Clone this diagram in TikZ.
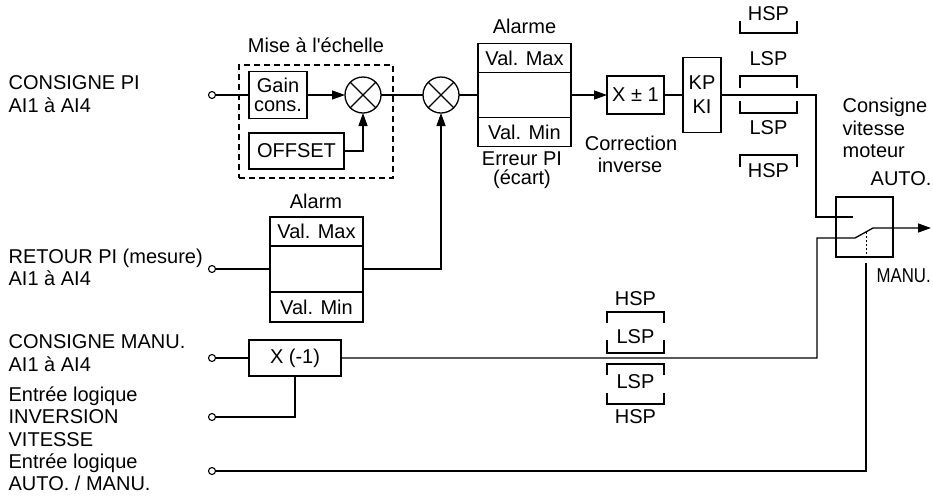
\documentclass[tikz,border=0pt]{standalone}
\usepackage{fontspec}
\usepackage{graphicx}
\setmainfont{Liberation Sans}
\usetikzlibrary{arrows.meta}
\begin{document}
\begin{tikzpicture}[x=1pt,y=-1pt,
  line width=1.3pt,
  every node/.style={font=\fontsize{20}{23}\selectfont},
  box/.style={draw, inner sep=0pt, outer sep=0pt, align=center},
  inp/.style={draw, circle, fill=white, inner sep=0pt, minimum size=7pt, line width=1.1pt},
  mult/.style={draw, circle, minimum size=36pt, inner sep=0pt, outer sep=0pt},
  lbl/.style={anchor=base west, inner sep=0pt},
  ctr/.style={anchor=base, inner sep=0pt},
  arr/.style={-{Triangle[length=13pt,width=9pt]}},
  brk/.style={line width=1.2pt},
]
\useasboundingbox (0,0) rectangle (933,496);

% scaling block
\node[draw, dash pattern=on 6pt off 4pt, minimum width=154pt, minimum height=113pt, inner sep=0pt] (scal) at (316,121.5) {};
\node[box, minimum width=58pt, minimum height=47pt, font=\fontsize{20}{19.5}\selectfont] (gain) at (278,95) {Gain\\cons.};
\node[box, minimum width=95pt, minimum height=36pt] (offset) at (296.5,151) {OFFSET};
\node[mult] (m1) at (363,95) {};
\node[mult] (m2) at (441,95) {};
\draw (m1.north east) -- (m1.south west) (m1.north west) -- (m1.south east);
\draw (m2.north east) -- (m2.south west) (m2.north west) -- (m2.south east);

% alarm block (error)
\node[box, minimum width=93pt, minimum height=45pt] (amid) at (524.5,95) {};
\node[box, minimum width=93pt, minimum height=29pt, anchor=south] (atop) at (amid.north) {Val. Max};
\node[box, minimum width=93pt, minimum height=29pt, anchor=north] (abot) at (amid.south) {Val. Min};

\node[box, minimum width=57pt, minimum height=38pt] (xpm) at (635.5,95) {X ± 1};
\node[box, minimum width=38pt, minimum height=75pt, font=\fontsize{20}{24}\selectfont] (kp) at (702,95) {KP\\KI};

% switch
\node[box, minimum width=57pt, minimum height=60pt] (sw) at (864.5,227) {};

% feedback alarm block
\node[box, minimum width=93pt, minimum height=46pt] (rmid) at (316.5,269) {};
\node[box, minimum width=93pt, minimum height=29pt, anchor=south] (rtop) at (rmid.north) {Val. Max};
\node[box, minimum width=93pt, minimum height=30pt, anchor=north] (rbot) at (rmid.south) {Val. Min};

\node[box, minimum width=92pt, minimum height=36pt] (xm1) at (295,358) {X (-1)};

% inputs
\node[inp] (i1) at (212,95) {};
\node[inp] (i2) at (212,269) {};
\node[inp] (i3) at (212,358) {};
\node[inp] (i4) at (212,417) {};
\node[inp] (i5) at (212,471) {};

% helper coordinates
\coordinate (ka) at (816,95);
\coordinate (s1) at (853,217);
\coordinate (b1) at (817,238);
\coordinate (s2) at (855,238);
\coordinate (s3) at (873,228);
\coordinate (out) at (931,228);
\coordinate (sd) at (866,231.9);
\coordinate (mt) at (866,263);

% connectors
\draw (i1) -- (gain);
\draw[arr] (gain) -- (m1);
\draw[arr] (offset.east) -| (m1.south);
\draw (m1) -- (m2);
\draw (m2) -- (amid);
\draw[arr] (amid) -- (xpm);
\draw (xpm) -- (kp);
\draw (kp.east) -- (ka) |- (s1);
\draw (i2) -- (rmid);
\draw[arr] (rmid.east) -| (m2.south);
\draw (i3) -- (xm1);
\draw[arr] (xm1.east) -| (b1) -- (s2) -- (s3) -- (out);
\draw[dash pattern=on 2pt off 2pt, line width=0.9pt] (sd) -- (sd |- sw.south);
\draw (i4) -| (xm1.south);
\draw (i5) -| (mt);

% limit brackets (top)
\draw[brk] (740,21) -- (740,33) -- (797,33) -- (797,21);
\draw[brk] (740,88) -- (740,76) -- (797,76) -- (797,88);
\draw[brk] (740,101) -- (740,113) -- (797,113) -- (797,101);
\draw[brk] (740,167) -- (740,155) -- (797,155) -- (797,167);
% limit brackets (bottom)
\draw[brk] (607,323) -- (607,312) -- (664,312) -- (664,323);
\draw[brk] (607,340) -- (607,353) -- (664,353) -- (664,340);
\draw[brk] (607,375) -- (607,364) -- (664,364) -- (664,375);
\draw[brk] (607,393) -- (607,404) -- (664,404) -- (664,393);

\node[ctr] (th1) at (768.5,20) {HSP};
\node[ctr] (tl1) at (768.5,65) {LSP};
\node[ctr] (tl2) at (768.5,134) {LSP};
\node[ctr] (th2) at (768.5,177) {HSP};
\node[ctr] (bh1) at (635.5,305) {HSP};
\node[ctr] (bl1) at (635.5,343) {LSP};
\node[ctr] (bl2) at (635.5,388) {LSP};
\node[ctr] (bh2) at (635.5,423) {HSP};

% labels
\node[ctr] (tmise) at (316,52) {Mise à l\textquotesingle échelle};
\node[ctr] (talarme) at (524.5,33) {Alarme};
\node[ctr] (terr1) at (522,165) {Erreur PI};
\node[ctr] (terr2) at (522,184) {(écart)};
\node[ctr] (tcor1) at (631,150) {Correction};
\node[ctr] (tcor2) at (630,172) {inverse};
\node[ctr] (talarm) at (316,208) {Alarm};

\node[lbl] (tc1) at (842,112) {Consigne};
\node[lbl] (tc2) at (842,135) {vitesse};
\node[lbl] (tc3) at (842,157) {moteur};
\node[lbl] (tauto) at (870,185) {AUTO.};
\node[lbl] (tmanu) at (876,282) {\scalebox{0.84}[1]{MANU.}};

\node[lbl] (l1a) at (8,89) {CONSIGNE PI};
\node[lbl] (l1b) at (8,112) {AI1 à AI4};
\node[lbl] (l2a) at (8,263) {RETOUR PI (mesure)};
\node[lbl] (l2b) at (8,285) {AI1 à AI4};
\node[lbl] (l3a) at (8,348) {CONSIGNE MANU.};
\node[lbl] (l3b) at (8,371) {AI1 à AI4};
\node[lbl] (l4a) at (8,401) {Entrée logique};
\node[lbl] (l4b) at (8,423) {INVERSION};
\node[lbl] (l4c) at (8,446) {VITESSE};
\node[lbl] (l5a) at (8,468) {Entrée logique};
\node[lbl] (l5b) at (8,490) {AUTO. / MANU.};
\end{tikzpicture}
\end{document}
